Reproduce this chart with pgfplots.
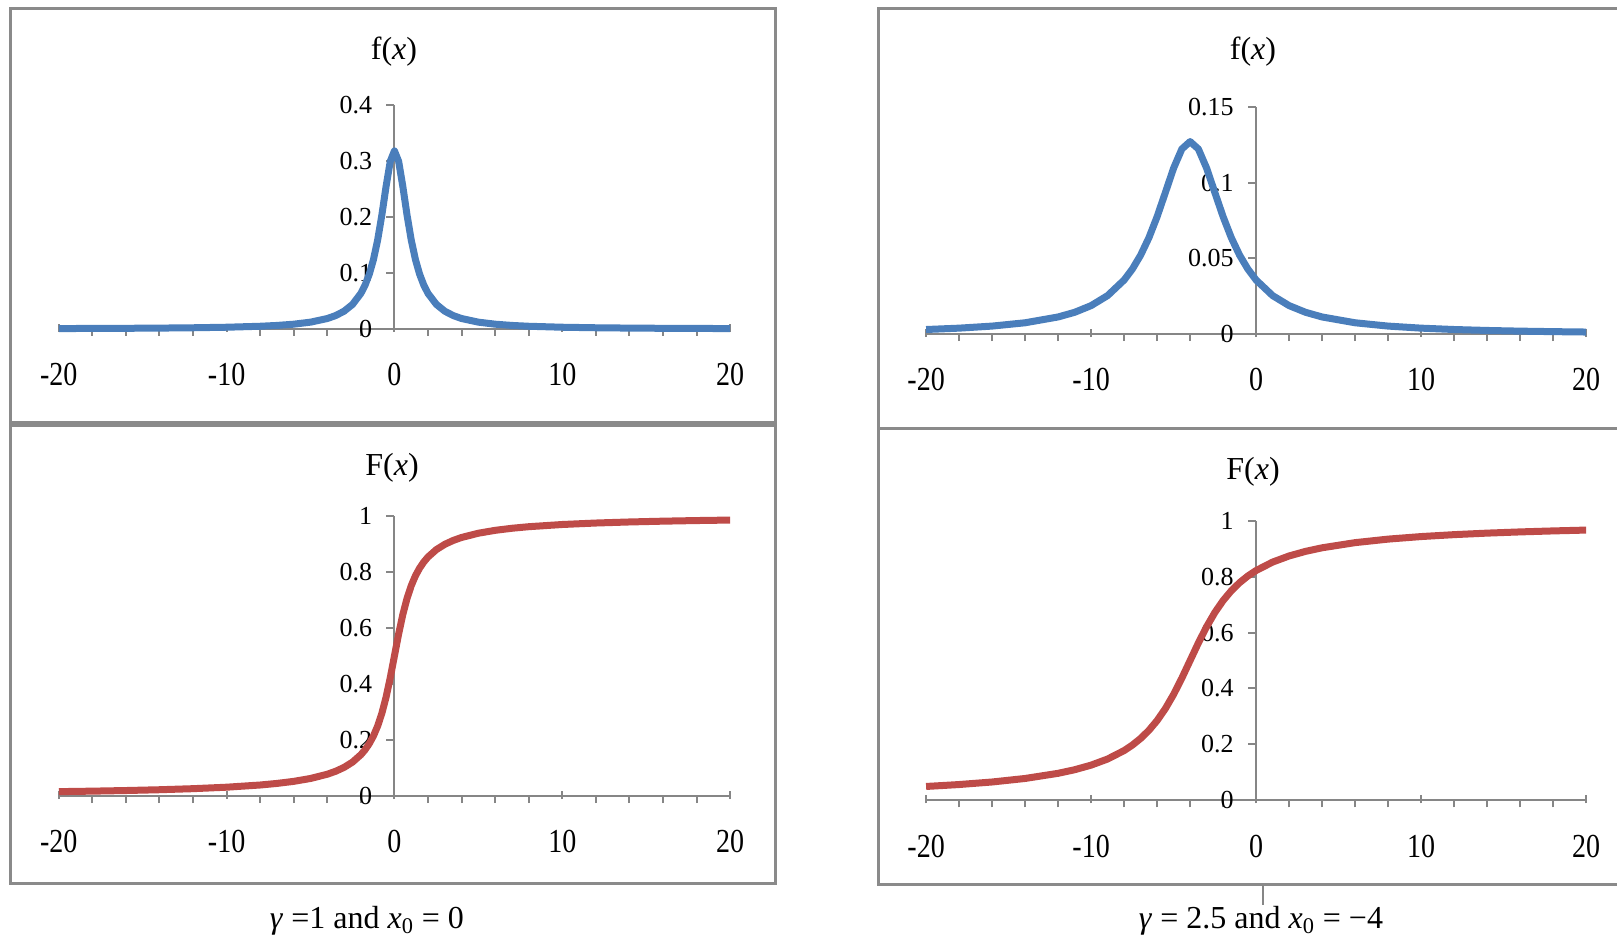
\documentclass[border=0pt]{standalone}
\usepackage{pgfplots}
\pgfplotsset{compat=1.18}
\usepackage{fontspec}
\setmainfont{Liberation Serif}

\definecolor{pdfblue}{HTML}{4A7EBB}
\definecolor{cdfred}{HTML}{BE4B48}
\definecolor{axgray}{HTML}{868686}
\definecolor{boxgray}{HTML}{8A8A8A}

\newcommand{\xl}[1]{\scalebox{1}[1.2]{#1}}

% Cauchy density and distribution, gamma = 1, x0 = 0
\pgfplotstableread{
x f
-20 0.00079
-18 0.00098
-16 0.00124
-14 0.00162
-12 0.00220
-10 0.00315
-8 0.00490
-7 0.00637
-6 0.00860
-5 0.01224
-4 0.01872
-3.5 0.02402
-3 0.03183
-2.5 0.04390
-2 0.06366
-1.75 0.07835
-1.5 0.09794
-1.25 0.12422
-1 0.15915
-0.75 0.20372
-0.5 0.25465
-0.25 0.29959
0 0.31831
0.25 0.29959
0.5 0.25465
0.75 0.20372
1 0.15915
1.25 0.12422
1.5 0.09794
1.75 0.07835
2 0.06366
2.5 0.04390
3 0.03183
3.5 0.02402
4 0.01872
5 0.01224
6 0.00860
7 0.00637
8 0.00490
10 0.00315
12 0.00220
14 0.00162
16 0.00124
18 0.00098
20 0.00079
}\pdfA

\pgfplotstableread{
x F
-20 0.01590
-18 0.01765
-16 0.01987
-14 0.02270
-12 0.02647
-10 0.03173
-8 0.03958
-7 0.04517
-6 0.05257
-5 0.06283
-4 0.07798
-3.5 0.08859
-3 0.10242
-2.5 0.12112
-2 0.14758
-1.75 0.16525
-1.5 0.18717
-1.25 0.21460
-1 0.25000
-0.75 0.29517
-0.5 0.35242
-0.25 0.42202
0 0.50000
0.25 0.57798
0.5 0.64758
0.75 0.70483
1 0.75000
1.25 0.78540
1.5 0.81283
1.75 0.83475
2 0.85242
2.5 0.87888
3 0.89758
3.5 0.91141
4 0.92202
5 0.93717
6 0.94743
7 0.95483
8 0.96042
10 0.96827
12 0.97353
14 0.97730
16 0.98013
18 0.98235
20 0.98410
}\cdfA

% Cauchy density and distribution, gamma = 2.5, x0 = -4
\pgfplotstableread{
x f
-20 0.003034
-18 0.003935
-16 0.005296
-14 0.007490
-12 0.011328
-11 0.014403
-10 0.018835
-9 0.025465
-8 0.035765
-7.5 0.043015
-7 0.052182
-6.5 0.063662
-6 0.077637
-5.5 0.093621
-5 0.109762
-4.5 0.122427
-4 0.127324
-3.5 0.122427
-3 0.109762
-2.5 0.093621
-2 0.077637
-1.5 0.063662
-1 0.052182
-0.5 0.043015
0 0.035765
1 0.025465
2 0.018835
3 0.014403
4 0.011328
6 0.007490
8 0.005296
10 0.003935
12 0.003034
14 0.002410
16 0.001959
18 0.001623
20 0.001367
}\pdfB

\pgfplotstableread{
x F
-20 0.04934
-18 0.05625
-16 0.06537
-14 0.07798
-12 0.09641
-11 0.10919
-10 0.12566
-9 0.14758
-8 0.17781
-7.5 0.19743
-7 0.22114
-6.5 0.25000
-6 0.28522
-5.5 0.32798
-5 0.37888
-4.5 0.43717
-4 0.50000
-3.5 0.56283
-3 0.62112
-2.5 0.67202
-2 0.71478
-1.5 0.75000
-1 0.77886
-0.5 0.80257
0 0.82219
1 0.85242
2 0.87434
3 0.89081
4 0.90359
6 0.92202
8 0.93463
10 0.94375
12 0.95066
14 0.95607
16 0.96042
18 0.96398
20 0.96697
}\cdfB

\pgfplotsset{
  panel/.style={
    scale only axis, anchor=south west,
    axis lines=middle,
    axis line style={axgray, line width=1pt, -},
    xmin=-20, xmax=20, ymin=0,
    xtick={-20,-10,0,10,20},
    xticklabels={\xl{-20},\xl{-10},\xl{0},\xl{10},\xl{20}},
    minor x tick num=4,
    hide obscured x ticks=false, hide obscured y ticks=false,
    every tick/.style={axgray, line width=1pt},
    tick align=outside,
    major tick length=4pt, minor tick length=3.5pt,
    every major x tick/.append style={yshift=2.5pt},
    xticklabel style={anchor=north, yshift=-13pt, inner sep=0pt,
      font=\fontsize{14}{14}\selectfont},
    yticklabel style={anchor=east, inner sep=0pt, xshift=-7pt,
      font=\fontsize{13}{13}\selectfont},
    clip=false,
    every axis plot/.append style={line width=3.5pt, line join=round},
  },
}

\begin{document}
\begin{tikzpicture}
\useasboundingbox (0,0) rectangle (808.5pt,469pt);

% panel frames
\draw[boxgray, line width=1.5pt] (5.15pt,257.6pt) rectangle (387.75pt,464.9pt);
\draw[boxgray, line width=1.5pt] (5.15pt,27.1pt) rectangle (387.75pt,256.05pt);
\draw[boxgray, line width=1.5pt] (439.3pt,254.5pt) rectangle (815pt,464.9pt);
\draw[boxgray, line width=1.5pt] (439.3pt,26.6pt) rectangle (815pt,254.5pt);
\draw[axgray, line width=1pt] (631.5pt,26.5pt) -- (631.5pt,16.5pt);

% gamma = 1, x0 = 0 : density
\begin{axis}[panel, at={(29.4pt,304.5pt)}, width=335.65pt, height=111.9pt,
  ymax=0.4, ytick={0,0.1,0.2,0.3,0.4}, yticklabels={0,0.1,0.2,0.3,0.4}]
  \addplot[pdfblue] table[x=x, y=f] {\pdfA};
\end{axis}

% gamma = 1, x0 = 0 : distribution
\begin{axis}[panel, at={(29.4pt,70.95pt)}, width=335.65pt, height=140.25pt,
  ymax=1, ytick={0,0.2,0.4,0.6,0.8,1}, yticklabels={0,0.2,0.4,0.6,0.8,1}]
  \addplot[cdfred] table[x=x, y=F] {\cdfA};
\end{axis}

% gamma = 2.5, x0 = -4 : density
\begin{axis}[panel, at={(463.05pt,301.95pt)}, width=330pt, height=113.4pt,
  ymax=0.15, ytick={0,0.05,0.1,0.15}, yticklabels={0,0.05,0.1,0.15}]
  \addplot[pdfblue] table[x=x, y=f] {\pdfB};
\end{axis}

% gamma = 2.5, x0 = -4 : distribution
\begin{axis}[panel, at={(463.05pt,68.875pt)}, width=330pt, height=139.7pt,
  ymax=1, ytick={0,0.2,0.4,0.6,0.8,1}, yticklabels={0,0.2,0.4,0.6,0.8,1}]
  \addplot[cdfred] table[x=x, y=F] {\cdfB};
\end{axis}

% panel titles
\node[font=\fontsize{16}{16}\selectfont] at (197pt,443.25pt) {f(\textit{x})};
\node[font=\fontsize{16}{16}\selectfont] at (196pt,235pt) {F(\textit{x})};
\node[font=\fontsize{16}{16}\selectfont] at (626.5pt,443.25pt) {f(\textit{x})};
\node[font=\fontsize{16}{16}\selectfont] at (626.5pt,233pt) {F(\textit{x})};

% parameter captions
\node[font=\fontsize{16}{16}\selectfont] at (183.5pt,8.5pt)
  {\textit{γ} =1 and \textit{x}\textsubscript{0} = 0};
\node[font=\fontsize{16}{16}\selectfont] at (630.5pt,8.5pt)
  {\textit{γ} = 2.5 and \textit{x}\textsubscript{0} = −4};
\end{tikzpicture}
\end{document}
